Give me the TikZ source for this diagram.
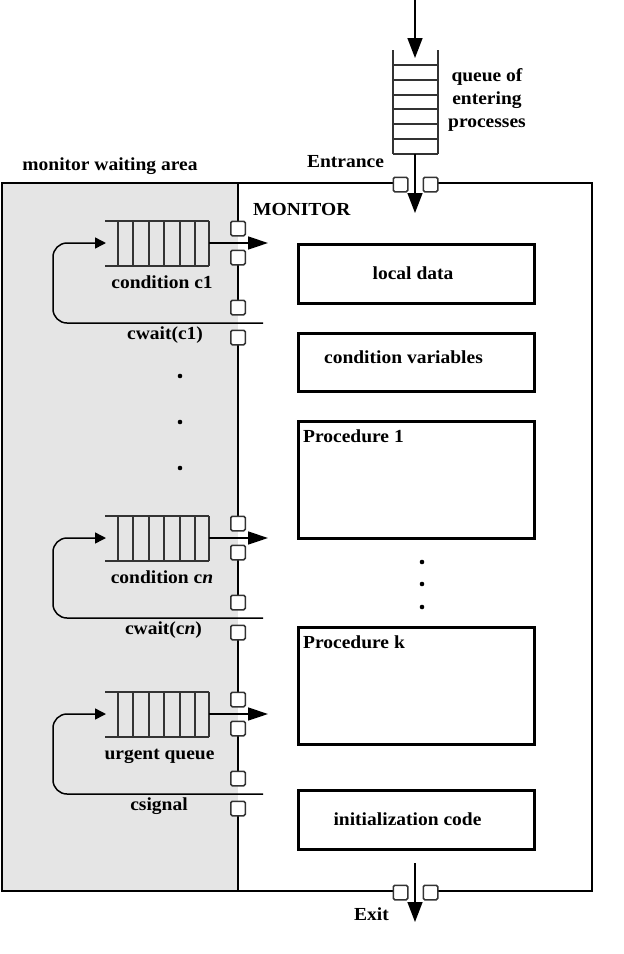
\documentclass[tikz,border=0pt]{standalone}
\usepackage{fontspec}
\setmainfont[FakeStretch=1.06]{Liberation Serif}
\usetikzlibrary{arrows.meta}
\begin{document}
\begin{tikzpicture}[x=1pt,y=-1pt,
  lbl/.style={font=\fontsize{18.4}{23}\selectfont\bfseries, inner sep=0pt, anchor=base},
  part/.style={draw, line width=2.7pt, inner sep=0pt},
  gate/.style={draw=black!80, fill=white, line width=1.5pt, rounded corners=1.5pt,
               minimum size=14.5pt, inner sep=0pt},
  ql/.style={line width=1.6pt, draw=black!80},
  flow/.style={line width=1.5pt},
  bigtip/.style={-{Triangle[length=20pt,width=13pt]}},
  smalltip/.style={-{Triangle[length=11pt,width=11pt]}}
]
\useasboundingbox (0,0) rectangle (624,954);

% monitor waiting area
\fill[black!10] (2,183) rectangle (238,891);

% outer frame, open at entrance and exit
\draw[line width=2.7pt] (393,183) -- (2,183) -- (2,891) -- (393,891);
\draw[line width=2.7pt] (438,183) -- (592,183) -- (592,891) -- (438,891);

% divider between waiting area and monitor, open where processes pass
\draw[line width=2.7pt]
  (238,183) -- (238,236) (238,250) -- (238,315) (238,330) -- (238,531)
  (238,545) -- (238,610) (238,625) -- (238,707) (238,721) -- (238,786)
  (238,801) -- (238,891);

% queue of entering processes
\draw[ql] (393,50) -- (393,154) (438,50) -- (438,154);
\foreach \yy in {65,80,95,109,124,139,154} \draw[ql] (393,\yy) -- (438,\yy);
\coordinate (src) at (415,0);
\coordinate (qin) at (415,58);
\coordinate (qout) at (415,154);
\coordinate (enter) at (415,213);
\draw[flow,-{Triangle[length=20pt,width=15pt]}] (src) -- (qin);
\draw[flow,-{Triangle[length=20pt,width=15pt]}] (qout) -- (enter);

% entrance and exit gates
\node[gate] (eg1) at (400.5,184.5) {};
\node[gate] (eg2) at (430.5,184.5) {};
\node[gate] (xg1) at (400.5,892.5) {};
\node[gate] (xg2) at (430.5,892.5) {};
\coordinate (leave) at (415,863);
\coordinate (gone) at (415,922);
\draw[flow,-{Triangle[length=20pt,width=15pt]}] (leave) -- (gone);

% condition queues and urgent queue
\foreach \Y/\nm/\la/\lb/\xa/\xb in {
    243/c1/{condition c1}/{cwait(c1)}/162/165,
    538/cn/{condition c\textit{n}}/{cwait(c\textit{n})}/162/163.5,
    714/urg/{urgent queue}/{csignal}/159.5/159}{
  \draw[ql] (105,\Y-22) -- (209,\Y-22) (105,\Y+23) -- (209,\Y+23);
  \foreach \xx in {118,133,149,164,180,195,209}
    \draw[ql] (\xx,\Y-22) -- (\xx,\Y+23);
  \node[gate] (\nm-g1) at (238,\Y-14.5) {};
  \node[gate] (\nm-g2) at (238,\Y+14.5) {};
  \node[gate] (\nm-g3) at (238,\Y+64.5) {};
  \node[gate] (\nm-g4) at (238,\Y+94.5) {};
  \coordinate (\nm-head) at (209,\Y);
  \coordinate (\nm-in) at (268,\Y);
  \coordinate (\nm-back) at (263,\Y+80);
  \coordinate (\nm-tail) at (106,\Y);
  \draw[flow,bigtip] (\nm-head) -- (\nm-in);
  \draw[flow,smalltip,rounded corners=14pt]
    (\nm-back) -- (53,\Y+80) -- (53,\Y) -- (\nm-tail);
  \node[lbl] (\nm-l1) at (\xa,\Y+45) {\la};
  \node[lbl] (\nm-l2) at (\xb,\Y+96) {\lb};
}

% elided condition queues and procedures
\foreach \yy in {376,422,468} \fill (180,\yy) circle (2.3pt);
\foreach \yy in {562,584,607} \fill (422,\yy) circle (2.3pt);

% monitor parts
\node[part, minimum width=236pt, minimum height=59pt, anchor=north west] (ld) at (297,243) {};
\node[part, minimum width=236pt, minimum height=58pt, anchor=north west] (cv) at (297,332) {};
\node[part, minimum width=236pt, minimum height=117pt, anchor=north west] (p1) at (297,420) {};
\node[part, minimum width=236pt, minimum height=117pt, anchor=north west] (pk) at (297,626) {};
\node[part, minimum width=236pt, minimum height=59pt, anchor=north west] (ic) at (297,789) {};

\node[lbl] (ldt) at (413,279) {local data};
\node[lbl] (cvt) at (403.5,363) {condition variables};
\node[lbl, anchor=base west] (p1t) at (303,442) {Procedure 1};
\node[lbl, anchor=base west] (pkt) at (303,648) {Procedure k};
\node[lbl] (ict) at (407.5,825) {initialization code};

% headings
\node[lbl] (wa) at (110,170) {monitor waiting area};
\node[lbl, anchor=base west] (mon) at (253,215) {MONITOR};
\node[lbl] (ent) at (345.5,167) {Entrance};
\node[lbl] (ext) at (371.5,920) {Exit};
\node[lbl, align=center, anchor=north] (qt) at (487,68) {queue of\\entering\\processes};
\end{tikzpicture}
\end{document}
